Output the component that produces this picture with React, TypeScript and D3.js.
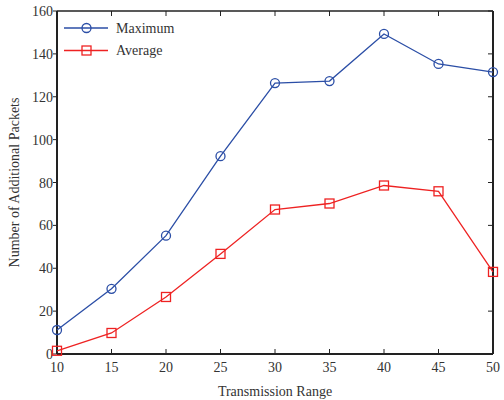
import React from 'react';
import * as d3 from 'd3';

const ranges = [10, 15, 20, 25, 30, 35, 40, 45, 50];
const maximum = [11.2, 30.4, 55.2, 92.3, 126.4, 127.3, 149.3, 135.3, 131.5];
const average = [1.5, 9.8, 26.6, 46.7, 67.4, 70.2, 78.6, 75.9, 38.3];
const xTicks = [10, 15, 20, 25, 30, 35, 40, 45, 50];
const yTicks = [0, 20, 40, 60, 80, 100, 120, 140, 160];

const W = 504;
const H = 400;
const margin = { top: 11, right: 11, bottom: 46, left: 57 };
const font = '"Liberation Serif", "Times New Roman", serif';
const blue = '#2b4ea6';
const red = '#ee2222';

const App = () => {
  const x = d3.scaleLinear().domain([10, 50]).range([margin.left, W - margin.right]);
  const y = d3.scaleLinear().domain([0, 160]).range([H - margin.bottom, margin.top]);

  const line = d3.line<number>()
    .x((_, i) => x(ranges[i]))
    .y(d => y(d));

  const x0 = x(10), x1 = x(50), y0 = y(0), y1 = y(160);

  return (
    <svg width={W} height={H} style={{ position: 'absolute', left: 0, top: 0 }}>
      <rect x={0} y={0} width={W} height={H} fill="#fff" />

      {/* ticks */}
      {xTicks.map(t => (
        <g key={'x' + t}>
          <line x1={x(t)} x2={x(t)} y1={y0} y2={y0 - 5} stroke="#222" strokeWidth={1} />
          <line x1={x(t)} x2={x(t)} y1={y1} y2={y1 + 5} stroke="#222" strokeWidth={1} />
          <text x={x(t)} y={y0 + 18} textAnchor="middle" fontFamily={font} fontSize={14} fill="#333">{t}</text>
        </g>
      ))}
      {yTicks.map(t => (
        <g key={'y' + t}>
          <line x1={x0} x2={x0 - 4} y1={y(t)} y2={y(t)} stroke="#222" strokeWidth={1} />
          <line x1={x1} x2={x1 - 5} y1={y(t)} y2={y(t)} stroke="#222" strokeWidth={1} />
          <text x={x0 - 4} y={y(t) + 5} textAnchor="end" fontFamily={font} fontSize={14} fill="#333">{t}</text>
        </g>
      ))}

      {/* frame */}
      <line x1={x0} x2={x1} y1={y1} y2={y1} stroke="#222" strokeWidth={1.5} />
      <line x1={x1} x2={x1} y1={y1} y2={y0} stroke="#222" strokeWidth={2} />
      <line x1={x0} x2={x0} y1={y1} y2={y0} stroke="#222" strokeWidth={2} />
      <line x1={x0} x2={x1} y1={y0} y2={y0} stroke="#222" strokeWidth={2} />

      {/* series */}
      <path d={line(maximum) || ''} fill="none" stroke={blue} strokeWidth={1.3} />
      {maximum.map((v, i) => (
        <circle key={'m' + i} cx={x(ranges[i])} cy={y(v)} r={4.5} fill="none" stroke={blue} strokeWidth={1.3} />
      ))}
      <path d={line(average) || ''} fill="none" stroke={red} strokeWidth={1.3} />
      {average.map((v, i) => (
        <rect key={'a' + i} x={x(ranges[i]) - 4.5} y={y(v) - 4.5} width={9} height={9} fill="none" stroke={red} strokeWidth={1.3} />
      ))}

      {/* legend */}
      <line x1={64} x2={108} y1={28} y2={28} stroke={blue} strokeWidth={1.3} />
      <circle cx={86.5} cy={28} r={4.5} fill="none" stroke={blue} strokeWidth={1.3} />
      <text x={116} y={32.5} fontFamily={font} fontSize={14} fill="#333">Maximum</text>
      <line x1={64} x2={108} y1={50.5} y2={50.5} stroke={red} strokeWidth={1.3} />
      <rect x={82} y={46} width={9} height={9} fill="none" stroke={red} strokeWidth={1.3} />
      <text x={116} y={55} fontFamily={font} fontSize={14} fill="#333">Average</text>

      {/* axis titles */}
      <text x={(x0 + x1) / 2} y={396} textAnchor="middle" fontFamily={font} fontSize={14} fill="#333">Transmission Range</text>
      <text transform={`translate(19,${(y0 + y1) / 2}) rotate(-90)`} textAnchor="middle" fontFamily={font} fontSize={14} fill="#333">Number of Additional Packets</text>
    </svg>
  );
};

export default App;
